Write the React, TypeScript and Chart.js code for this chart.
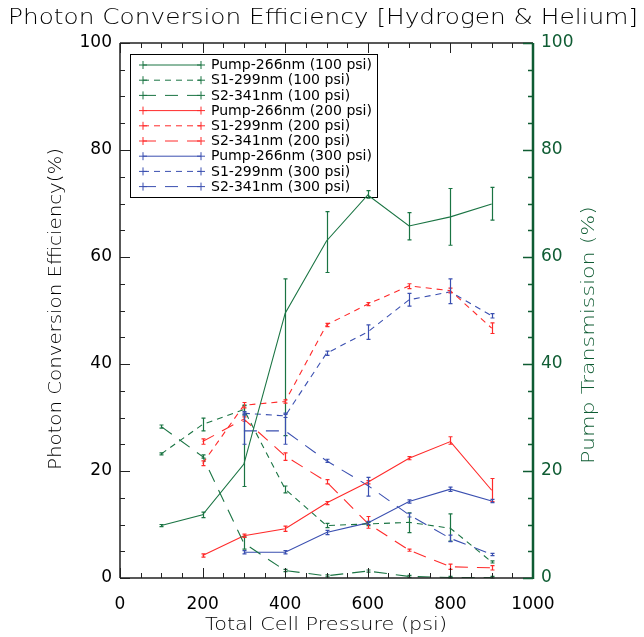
import React, { useEffect, useRef } from "react";
import { Chart, registerables } from "chart.js";

Chart.register(...registerables);

const pressures = [100, 200, 300, 400, 500, 600, 700, 800, 900];

const pump100 = [9.8, 11.8, 21.3, 49.5, 63.0, 71.6, 65.8, 67.5, 69.9];
const pump100Lo = [9.6, 11.3, 17.1, 26.6, 57.1, 71.0, 63.2, 62.2, 66.9];
const pump100Hi = [10.0, 12.3, 32.2, 55.9, 68.5, 72.4, 68.3, 72.8, 73.0];

const s1_100 = [23.2, 28.7, 31.5, 16.6, 9.8, 10.1, 10.4, 9.3, 3.0];
const s1_100Lo = [23.0, 27.5, 30.5, 15.9, 9.4, 9.8, 8.5, 6.9, 2.8];
const s1_100Hi = [23.4, 29.9, 32.3, 17.2, 10.2, 10.4, 12.2, 12.0, 3.2];

const s2_100 = [28.3, 22.7, 6.5, 1.4, 0.4, 1.3, 0.3, 0.1, 0.1];
const s2_100Lo = [28.0, 22.4, 5.4, 1.2, 0.2, 1.1, 0.1, 0.0, 0.0];
const s2_100Hi = [28.6, 23.0, 7.7, 1.6, 0.6, 1.5, 0.5, 0.3, 0.3];

const pump200 = [null, 4.2, 7.9, 9.2, 14.0, 17.9, 22.4, 25.5, 16.4];
const pump200Lo = [null, 3.9, 7.6, 8.7, 13.7, 17.6, 22.1, 25.0, 14.3];
const pump200Hi = [null, 4.5, 8.2, 9.7, 14.3, 18.2, 22.7, 26.4, 18.6];

const s1_200 = [null, 21.4, 32.3, 33.0, 47.3, 51.2, 54.6, 53.7, 46.7];
const s1_200Lo = [null, 21.0, 31.8, 32.7, 47.0, 50.9, 54.1, 53.3, 45.7];
const s1_200Hi = [null, 21.9, 32.8, 33.3, 47.6, 51.5, 55.0, 54.2, 47.7];

const s2_200 = [null, 25.5, 29.7, 22.8, 18.0, 10.2, 5.2, 2.1, 1.9];
const s2_200Lo = [null, 25.0, 29.3, 22.0, 17.6, 9.3, 5.0, 1.6, 1.5];
const s2_200Hi = [null, 26.0, 30.1, 23.4, 18.4, 11.5, 5.4, 2.6, 2.3];

const pump300 = [null, null, 4.8, 4.8, 8.5, 10.3, 14.3, 16.6, 14.4];
const pump300Lo = [null, null, 4.5, 4.5, 8.1, 10.0, 14.0, 16.2, 14.1];
const pump300Hi = [null, null, 5.1, 5.1, 8.9, 10.6, 14.6, 17.0, 14.7];

const s1_300 = [null, null, 30.8, 30.3, 42.0, 46.0, 52.0, 53.5, 49.0];
const s1_300Lo = [null, null, 30.5, 30.0, 41.6, 44.6, 50.8, 51.3, 48.6];
const s1_300Hi = [null, null, 31.1, 30.6, 42.4, 47.3, 53.2, 55.9, 49.4];

const s2_300 = [null, null, 27.5, 27.5, 21.9, 17.3, 11.8, 7.4, 4.4];
const s2_300Lo = [null, null, 25.0, 25.0, 21.6, 15.3, 11.4, 6.8, 4.2];
const s2_300Hi = [null, null, 30.8, 30.8, 22.2, 18.8, 12.1, 8.0, 4.6];

const legendLabels = [
  "Pump-266nm (100 psi)",
  "S1-299nm (100 psi)",
  "S2-341nm (100 psi)",
  "Pump-266nm (200 psi)",
  "S1-299nm (200 psi)",
  "S2-341nm (200 psi)",
  "Pump-266nm (300 psi)",
  "S1-299nm (300 psi)",
  "S2-341nm (300 psi)",
];

const xTicks = [0, 200, 400, 600, 800, 1000];
const yTicks = [0, 20, 40, 60, 80, 100];

const GREEN = "#1a7443";
const AXIS_GREEN = "#0f5c33";
const RED = "#ff2a2a";
const BLUE = "#3a4fb0";
const SOLID: number[] = [];
const SHORT = [6, 5];
const LONG = [13, 9];
const FONT = "'DejaVu Sans', sans-serif";

const seriesDefs = [
  { v: pump100, lo: pump100Lo, hi: pump100Hi, c: GREEN, d: SOLID, ax: "y2" },
  { v: s1_100, lo: s1_100Lo, hi: s1_100Hi, c: GREEN, d: SHORT, ax: "y" },
  { v: s2_100, lo: s2_100Lo, hi: s2_100Hi, c: GREEN, d: LONG, ax: "y" },
  { v: pump200, lo: pump200Lo, hi: pump200Hi, c: RED, d: SOLID, ax: "y" },
  { v: s1_200, lo: s1_200Lo, hi: s1_200Hi, c: RED, d: SHORT, ax: "y" },
  { v: s2_200, lo: s2_200Lo, hi: s2_200Hi, c: RED, d: LONG, ax: "y" },
  { v: pump300, lo: pump300Lo, hi: pump300Hi, c: BLUE, d: SOLID, ax: "y" },
  { v: s1_300, lo: s1_300Lo, hi: s1_300Hi, c: BLUE, d: SHORT, ax: "y" },
  { v: s2_300, lo: s2_300Lo, hi: s2_300Hi, c: BLUE, d: LONG, ax: "y" },
];

function fitText(ctx: CanvasRenderingContext2D, text: string, cx: number, cy: number, width: number, rot: number) {
  const w = ctx.measureText(text).width;
  ctx.save();
  ctx.translate(cx, cy);
  ctx.rotate(rot);
  ctx.scale(width / w, 1);
  ctx.fillText(text, 0, 0);
  ctx.restore();
}

const framePlugin = {
  id: "frame",
  beforeDatasetsDraw(chart: any) {
    const ctx = chart.ctx;
    const bx = 130, by = 54, bw = 247, bh = 143;
    ctx.save();
    ctx.fillStyle = "#ffffff";
    ctx.fillRect(bx, by, bw, bh);
    ctx.strokeStyle = "#000";
    ctx.lineWidth = 1;
    ctx.strokeRect(bx + 0.5, by + 0.5, bw, bh);
    ctx.font = `14px ${FONT}`;
    ctx.textBaseline = "middle";
    ctx.textAlign = "left";
    legendLabels.forEach((lab, i) => {
      const def = seriesDefs[i];
      const yy = 65 + i * 15.2;
      ctx.strokeStyle = def.c;
      ctx.lineWidth = 1;
      ctx.setLineDash(def.d);
      ctx.beginPath();
      ctx.moveTo(143, yy);
      ctx.lineTo(201, yy);
      ctx.stroke();
      ctx.setLineDash([]);
      [143, 201].forEach((px) => {
        ctx.beginPath();
        ctx.moveTo(px - 4, yy);
        ctx.lineTo(px + 4, yy);
        ctx.moveTo(px, yy - 4);
        ctx.lineTo(px, yy + 4);
        ctx.stroke();
      });
      ctx.fillStyle = "#000";
      const w = ctx.measureText(lab).width;
      const target = w * (161 / ctx.measureText(legendLabels[0]).width);
      ctx.save();
      ctx.translate(211, yy + 0.5);
      ctx.scale(target / w, 1);
      ctx.fillText(lab, 0, 0);
      ctx.restore();
    });
    ctx.restore();
  },
  afterDatasetsDraw(chart: any) {
    const ctx = chart.ctx;
    const xs = chart.scales.x;
    const ys = chart.scales.y;
    ctx.save();
    seriesDefs.forEach((def) => {
      ctx.strokeStyle = def.c;
      ctx.lineWidth = 1.2;
      ctx.setLineDash([]);
      pressures.forEach((p, i) => {
        if (def.v[i] === null) return;
        const px = Math.round(xs.getPixelForValue(p)) + 0.5;
        const y1 = ys.getPixelForValue(def.lo[i] as number);
        const y2 = ys.getPixelForValue(def.hi[i] as number);
        ctx.beginPath();
        ctx.moveTo(px, y1);
        ctx.lineTo(px, y2);
        ctx.moveTo(px - 2, y1);
        ctx.lineTo(px + 2, y1);
        ctx.moveTo(px - 2, y2);
        ctx.lineTo(px + 2, y2);
        ctx.stroke();
      });
    });
    const { left, right, top, bottom } = chart.chartArea;
    ctx.strokeStyle = "#222";
    ctx.lineWidth = 1.5;
    ctx.beginPath();
    ctx.moveTo(left, top);
    ctx.lineTo(right, top);
    ctx.moveTo(left, bottom);
    ctx.lineTo(right, bottom);
    ctx.moveTo(left, top);
    ctx.lineTo(left, bottom);
    ctx.stroke();
    ctx.lineWidth = 1;
    ctx.beginPath();
    for (let v = 0; v <= 1000; v += 50) {
      const px = Math.round(xs.getPixelForValue(v)) + 0.5;
      const len = v % 200 === 0 ? 10 : 5;
      ctx.moveTo(px, bottom);
      ctx.lineTo(px, bottom - len);
      ctx.moveTo(px, top);
      ctx.lineTo(px, top + len);
    }
    for (let v = 0; v <= 100; v += 5) {
      const py = Math.round(ys.getPixelForValue(v)) + 0.5;
      const len = v % 20 === 0 ? 10 : 5;
      ctx.moveTo(left, py);
      ctx.lineTo(left + len, py);
    }
    ctx.stroke();
    ctx.strokeStyle = AXIS_GREEN;
    ctx.lineWidth = 2.5;
    ctx.beginPath();
    ctx.moveTo(right, top);
    ctx.lineTo(right, bottom + 1);
    ctx.stroke();
    ctx.lineWidth = 1.5;
    ctx.beginPath();
    for (let v = 0; v <= 100; v += 5) {
      const py = Math.round(ys.getPixelForValue(v)) + 0.5;
      const len = v % 20 === 0 ? 10 : 5;
      ctx.moveTo(right, py);
      ctx.lineTo(right - len, py);
    }
    ctx.stroke();
    ctx.fillStyle = "#000";
    ctx.textAlign = "center";
    ctx.textBaseline = "middle";
    ctx.font = `300 22px ${FONT}`;
    fitText(ctx, "Photon Conversion Efficiency [Hydrogen & Helium]", 323, 18, 630, 0);
    ctx.font = `300 17px ${FONT}`;
    fitText(ctx, "Total Cell Pressure (psi)", 326, 626, 242, 0);
    fitText(ctx, "Photon Conversion Efficiency(%)", 57, 309, 322, -Math.PI / 2);
    ctx.fillStyle = AXIS_GREEN;
    fitText(ctx, "Pump Transmission (%)", 590, 335, 258, -Math.PI / 2);
    ctx.restore();
  },
};

const tickFont = { family: "DejaVu Sans", size: 17 };

export default function App() {
  const ref = useRef<HTMLCanvasElement | null>(null);
  useEffect(() => {
    if (!ref.current) return;
    const datasets = seriesDefs.map((def, k) => ({
      label: legendLabels[k],
      data: pressures
        .map((p, i) => (def.v[i] === null ? null : { x: p, y: def.v[i] as number }))
        .filter((d) => d !== null),
      borderColor: def.c,
      backgroundColor: def.c,
      borderWidth: 1.1,
      borderDash: def.d,
      pointRadius: 0,
      fill: false,
      tension: 0,
      yAxisID: def.ax,
    }));
    const chart = new Chart(ref.current, {
      type: "line",
      data: { datasets: datasets as any },
      options: {
        responsive: false,
        animation: false,
        layout: { padding: { top: 43, left: 0, right: 0, bottom: 0 } },
        plugins: {
          legend: { display: false },
          title: { display: false },
          tooltip: { enabled: false },
        },
        scales: {
          x: {
            type: "linear",
            min: 0,
            max: 1000,
            afterFit: (s: any) => {
              s.height = 59;
            },
            afterBuildTicks: (s: any) => {
              s.ticks = xTicks.map((v) => ({ value: v }));
            },
            grid: { display: false, drawTicks: false },
            border: { display: false },
            ticks: {
              padding: 16,
              color: "#000",
              font: tickFont,
              maxRotation: 0,
              callback: (v: any) => String(v),
            },
          },
          y: {
            type: "linear",
            position: "left",
            min: 0,
            max: 100,
            afterFit: (s: any) => {
              s.width = 120;
            },
            afterBuildTicks: (s: any) => {
              s.ticks = yTicks.map((v) => ({ value: v }));
            },
            grid: { display: false, drawTicks: false },
            border: { display: false },
            ticks: {
              padding: 8,
              color: "#000",
              font: tickFont,
              callback: (v: any) => String(v),
            },
          },
          y2: {
            type: "linear",
            position: "right",
            min: 0,
            max: 100,
            afterFit: (s: any) => {
              s.width = 111;
            },
            afterBuildTicks: (s: any) => {
              s.ticks = yTicks.map((v) => ({ value: v }));
            },
            grid: { display: false, drawTicks: false },
            border: { display: false },
            ticks: {
              padding: 8,
              color: AXIS_GREEN,
              font: tickFont,
              callback: (v: any) => String(v),
            },
          },
        },
      },
      plugins: [framePlugin],
    });
    return () => chart.destroy();
  }, []);
  return (
    <div style={{ position: "fixed", left: 0, top: 0, width: 644, height: 637, background: "#fff" }}>
      <canvas ref={ref} width={644} height={637} />
    </div>
  );
}
